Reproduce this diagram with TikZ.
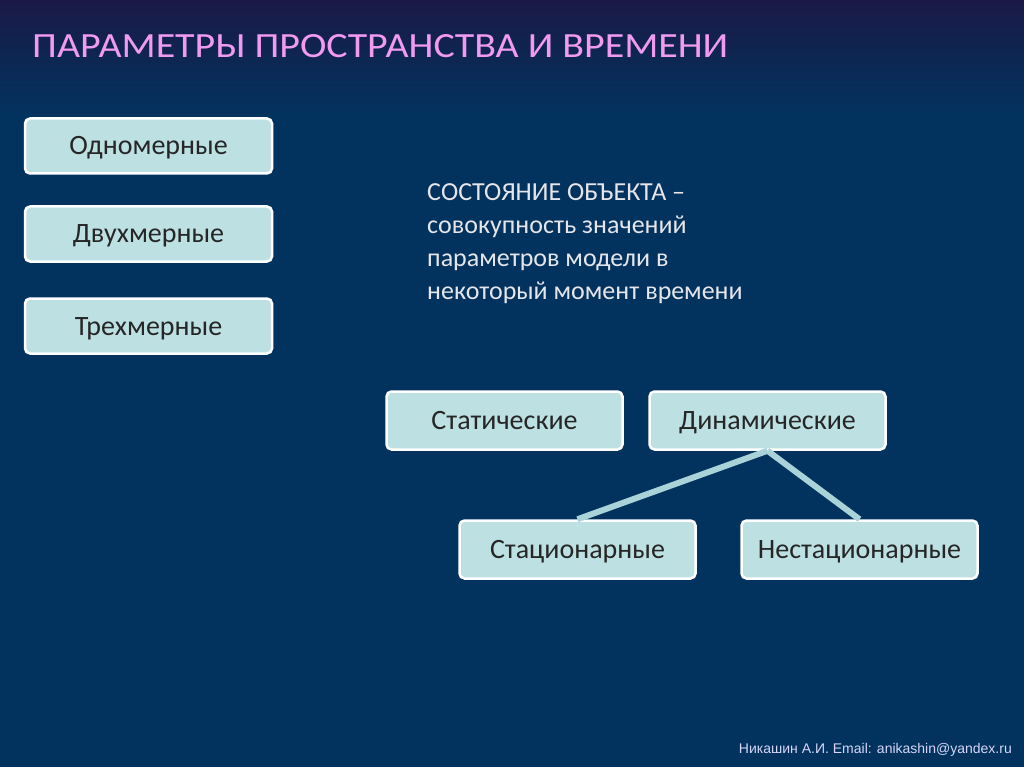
\documentclass[tikz,border=0pt]{standalone}
\usepackage{fontspec}
\setmainfont{Carlito}
\newfontfamily\footfont{Liberation Sans}
\definecolor{bgtop}{HTML}{1A1946}
\definecolor{bgmain}{HTML}{02335F}
\definecolor{boxfill}{HTML}{BDE0E3}
\definecolor{linkcol}{HTML}{A9D2D9}
\definecolor{titlecol}{HTML}{F09AF0}
\definecolor{textcol}{HTML}{E6E6EA}
\definecolor{footcol}{HTML}{D6D6F6}
\tikzset{
  catbox/.style={draw=white, line width=2.5pt, fill=boxfill, rounded corners=5pt,
    minimum width=247pt, minimum height=55pt, inner sep=0pt,
    font=\fontsize{28}{32}\selectfont, text=black!85,
    text height=18pt, text depth=0pt},
  subbox/.style={catbox, minimum width=236pt, minimum height=58pt},
  link/.style={draw=linkcol, line width=6pt}
}
\begin{document}
\begin{tikzpicture}[x=1pt,y=-1pt]
\useasboundingbox (0,0) rectangle (1024,767);
\fill[bgmain] (0,0) rectangle (1024,767);
\shade[top color=bgtop, bottom color=bgmain] (0,0) rectangle (1024,115);
\node[anchor=base west, inner sep=0pt, text=titlecol, font=\fontsize{34}{40}\selectfont] (title) at (32,58) {\resizebox{696pt}{23pt}{ПАРАМЕТРЫ ПРОСТРАНСТВА И ВРЕМЕНИ}};
\node[catbox] (one) at (148.5,146) {Одномерные};
\node[catbox] (two) at (148.5,234) {Двухмерные};
\node[catbox] (three) at (148.5,326) {Трехмерные};
\node[anchor=base west, inner sep=0pt, align=left, text=textcol, font=\fontsize{26}{33}\selectfont] (def) at (427,299) {СОСТОЯНИЕ ОБЪЕКТА –\\совокупность значений\\параметров модели в\\некоторый момент времени};
\node[subbox] (stat) at (504.5,420.5) {Статические};
\node[subbox] (dyn) at (767.5,420.5) {Динамические};
\node[subbox] (stac) at (577.5,549.5) {Стационарные};
\node[subbox] (nest) at (859.5,549.5) {Нестационарные};
\draw[link] (dyn.south) -- (stac.north);
\draw[link] (dyn.south) -- (nest.north);
\node[anchor=base east, inner sep=0pt, text=footcol, font=\footfont\fontsize{14}{16}\selectfont] (foot) at (1012,753) {Никашин А.И. Email: anikashin@yandex.ru};
\end{tikzpicture}
\end{document}
